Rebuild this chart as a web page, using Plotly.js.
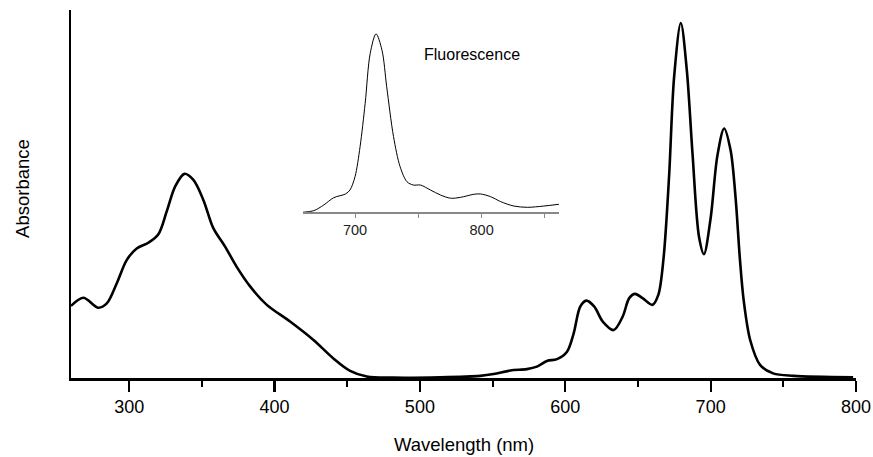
<!DOCTYPE html>
<html>
<head>
<meta charset="utf-8">
<script src="https://cdn.plot.ly/plotly-3.0.1.min.js"></script>
<style>html,body{margin:0;padding:0;background:#fff;}#chart{width:873px;height:457px;}</style>
</head>
<body>
<div id="chart"></div>
<script>
// Absorption spectrum (normalized absorbance)
const absWavelength = [260, 268.5, 278.8, 284.6, 291.5, 298.3, 305.2, 313.2, 320.1, 325.9, 331.6, 338.0, 344.2, 351.1, 357.9, 366.0, 374.0, 383.2, 394.7, 410.7, 426.8, 440.5, 452, 463.5, 481.6, 514, 541.5, 550.7, 562.2, 573.6, 580.5, 587.4, 594.3, 601.2, 605.8, 610.3, 614.5, 620, 625.8, 633.3, 639.5, 644, 648, 653.2, 660, 664, 667.6, 671.4, 674.9, 679.5, 683.6, 687.5, 692.0, 695.4, 700.0, 704.6, 709.3, 713.7, 717.1, 720.1, 722.7, 727.2, 734, 743, 757, 798];
const absValues = [0.203, 0.226, 0.198, 0.210, 0.267, 0.332, 0.365, 0.381, 0.405, 0.470, 0.539, 0.575, 0.558, 0.501, 0.422, 0.370, 0.313, 0.258, 0.206, 0.159, 0.107, 0.055, 0.020, 0.004, 0.001, 0.002, 0.006, 0.011, 0.021, 0.025, 0.032, 0.048, 0.053, 0.074, 0.126, 0.201, 0.218, 0.201, 0.159, 0.135, 0.173, 0.225, 0.237, 0.225, 0.206, 0.234, 0.337, 0.567, 0.849, 1.000, 0.868, 0.634, 0.398, 0.349, 0.450, 0.625, 0.703, 0.642, 0.511, 0.337, 0.220, 0.107, 0.037, 0.013, 0.006, 0.002];

// Fluorescence spectrum (inset, normalized intensity)
const fluoWavelength = [658.7, 667.4, 675.3, 683.2, 692.5, 696, 700, 704, 708, 712, 716.6, 721.3, 725, 730.4, 735.6, 741, 746, 751.7, 759.6, 767.5, 775.4, 783.3, 793.8, 799, 807, 815, 825.5, 836, 849, 861];
const fluoValues = [0.0, 0.009, 0.041, 0.082, 0.103, 0.125, 0.200, 0.369, 0.612, 0.893, 1.002, 0.910, 0.706, 0.425, 0.256, 0.172, 0.153, 0.153, 0.125, 0.097, 0.079, 0.084, 0.101, 0.103, 0.088, 0.060, 0.035, 0.028, 0.035, 0.045];

// Tick labels
const mainTicks = [300, 400, 500, 600, 700, 800];
const insetTicks = [700, 750, 800, 850];
const insetTickText = ['700', '', '800', ''];

const FONT = 'Liberation Sans, Arial, Helvetica, sans-serif';

const traces = [
  {x: absWavelength, y: absValues, type: 'scatter', mode: 'lines',
   line: {color: '#000', width: 2.6, shape: 'spline', smoothing: 0.9},
   xaxis: 'x', yaxis: 'y', hoverinfo: 'skip', showlegend: false},
  {x: fluoWavelength, y: fluoValues, type: 'scatter', mode: 'lines',
   line: {color: '#000', width: 1, shape: 'spline', smoothing: 0.9},
   xaxis: 'x2', yaxis: 'y2', hoverinfo: 'skip', showlegend: false}
];

const layout = {
  width: 873, height: 457,
  margin: {l: 71, r: 17, t: 10, b: 79},
  paper_bgcolor: '#fff', plot_bgcolor: '#fff',
  font: {family: FONT, color: '#000', size: 18},
  showlegend: false,
  xaxis: {
    range: [260, 800], showgrid: false, zeroline: false,
    showline: true, linecolor: '#000', linewidth: 2.5,
    ticks: 'outside', ticklen: 11, tickwidth: 2.2, tickcolor: '#000',
    tickvals: mainTicks, ticktext: mainTicks.map(String),
    minor: {dtick: 50, tick0: 250, ticks: 'outside', ticklen: 6, tickwidth: 2, tickcolor: '#000', showgrid: false},
    tickfont: {size: 18, family: FONT, color: '#000'},
    fixedrange: true
  },
  yaxis: {
    range: [0, 1.0366], showgrid: false, zeroline: false,
    showline: true, linecolor: '#000', linewidth: 2.5,
    ticks: '', showticklabels: false, fixedrange: true
  },
  xaxis2: {
    domain: [0.2952, 0.6220], anchor: 'y2',
    range: [658.7, 861.3], showgrid: false, zeroline: false,
    showline: true, linecolor: '#888', linewidth: 1.5,
    ticks: 'outside', ticklen: 4, tickwidth: 1, tickcolor: '#888',
    tickvals: insetTicks, ticktext: insetTickText,
    tickfont: {size: 14.5, family: FONT, color: '#222'},
    fixedrange: true
  },
  yaxis2: {
    domain: [0.4503, 0.9457], anchor: 'x2',
    range: [0, 1.024], visible: false, fixedrange: true
  },
  annotations: [
    {text: 'Wavelength (nm)', xref: 'paper', yref: 'paper', x: 0.5, y: -0.18,
     xanchor: 'center', yanchor: 'middle', showarrow: false,
     font: {size: 18.5, family: FONT, color: '#000'}},
    {text: 'Absorbance', xref: 'paper', yref: 'paper', x: -0.0627, y: 0.516,
     xanchor: 'center', yanchor: 'middle', textangle: -90, showarrow: false,
     font: {size: 18.5, family: FONT, color: '#000'}},
    {text: 'Fluorescence', xref: 'paper', yref: 'paper', x: 0.5104, y: 0.8796,
     xanchor: 'center', yanchor: 'middle', showarrow: false,
     font: {size: 16, family: FONT, color: '#000'}}
  ]
};

Plotly.newPlot('chart', traces, layout, {displayModeBar: false, staticPlot: true});
</script>
</body>
</html>
